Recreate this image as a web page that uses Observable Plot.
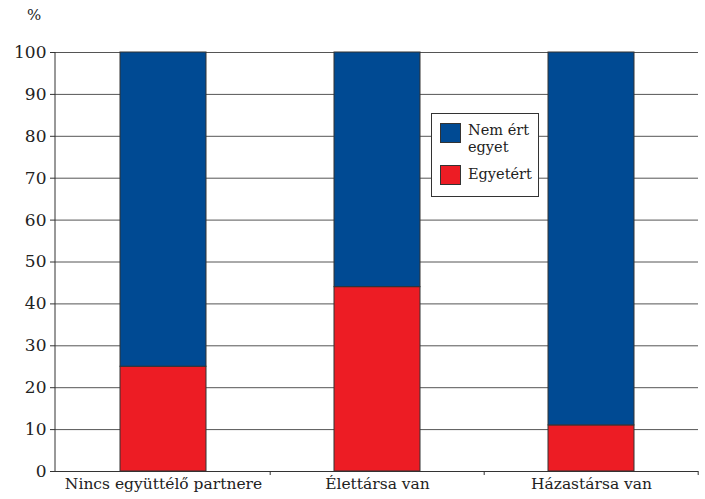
<!DOCTYPE html>
<html>
<head>
<meta charset="utf-8">
<script src="https://cdn.jsdelivr.net/npm/d3@7"></script>
<script src="https://cdn.jsdelivr.net/npm/@observablehq/plot@0.6"></script>
<style>
  body { margin: 0; background: #fff; }
  #chart { position: relative; width: 705px; height: 499px; font-family: "DejaVu Serif", serif; color: #222; }
  #unit { position: absolute; left: 27px; top: 6px; font-size: 15px; }
  #legend { position: absolute; left: 431px; top: 113px; width: 106px; height: 82px; border: 1px solid #333; background: #fff; font-size: 14.5px; }
  .item { position: absolute; left: 8px; display: flex; align-items: flex-start; }
  .sw { width: 21px; height: 20px; border: 1px solid #333; box-sizing: border-box; margin-right: 7px; margin-top: 1px; }
  .lab { line-height: 17px; }
</style>
</head>
<body>
<div id="chart"></div>
<script>
// Egyetértés megoszlása a párkapcsolat formája szerint (%)
const categories = ["Nincs együttélő partnere", "Élettársa van", "Házastársa van"];
const series = ["Egyetért", "Nem ért egyet"];
const egyetert = [25, 44, 11];
const nemErtEgyet = [75, 56, 89];
const yTicks = [0, 10, 20, 30, 40, 50, 60, 70, 80, 90, 100];
const colors = ["#ed1c24", "#004a93"];
const serifFont = "'DejaVu Serif', serif";

const rows = [];
categories.forEach((c, i) => {
  rows.push({cat: c, series: series[0], value: egyetert[i]});
  rows.push({cat: c, series: series[1], value: nemErtEgyet[i]});
});

// left axis line and small tick marks between the category bands
function axisFrame(index, scales, values, dimensions) {
  const {x, y} = scales;
  const g = d3.create("svg:g").attr("stroke", "#333").attr("fill", "none");
  const left = dimensions.marginLeft;
  g.append("line").attr("x1", left).attr("x2", left)
    .attr("y1", y(100)).attr("y2", y(0));
  const step = x.step();
  categories.forEach(c => {
    const bx = x(c) + x.bandwidth() + step * 0.3;
    g.append("line").attr("x1", bx).attr("x2", bx)
      .attr("y1", y(0)).attr("y2", y(0) + 4);
  });
  return g.node();
}

const plot = Plot.plot({
  width: 705,
  height: 499,
  marginLeft: 55,
  marginRight: 7,
  marginTop: 52,
  marginBottom: 28,
  style: {fontFamily: serifFont, fontSize: "16px", color: "#222", background: "transparent"},
  x: {domain: categories, paddingInner: 0.6, paddingOuter: 0.3, label: null},
  y: {domain: [0, 100], label: null},
  color: {domain: series, range: colors},
  marks: [
    Plot.gridY(yTicks, {stroke: "#555", strokeOpacity: 1}),
    Plot.barY(rows, {x: "cat", y: "value", fill: "series", stroke: "#333", strokeWidth: 1, order: series}),
    Plot.ruleY([0], {stroke: "#333"}),
    Plot.axisY({ticks: yTicks, tickSize: 5, tickPadding: 4, fontSize: 17, stroke: "#333", label: null}),
    Plot.axisX({tickSize: 0, tickPadding: 6, fontSize: 15.5, label: null}),
    axisFrame
  ]
});

const chart = document.getElementById("chart");
chart.appendChild(plot);

const unit = document.createElement("div");
unit.id = "unit";
unit.textContent = "%";
chart.appendChild(unit);

const legend = document.createElement("div");
legend.id = "legend";
legend.innerHTML =
  `<div class="item" style="top:8px"><div class="sw" style="background:${colors[1]}"></div><div class="lab">Nem ért<br>egyet</div></div>` +
  `<div class="item" style="top:50px"><div class="sw" style="background:${colors[0]}"></div><div class="lab" style="line-height:20px">Egyetért</div></div>`;
chart.appendChild(legend);
</script>
</body>
</html>
